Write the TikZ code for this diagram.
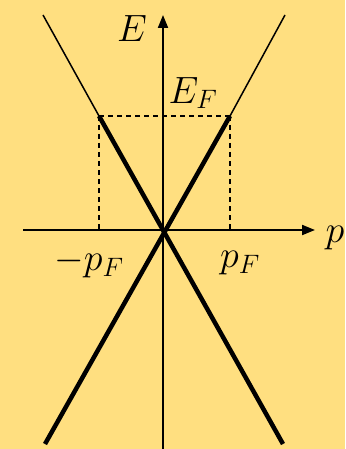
\documentclass[tikz,border=0pt]{standalone}
\usepackage{fix-cm}
\usetikzlibrary{arrows.meta}
\definecolor{bgc}{RGB}{255,223,128}
\begin{document}
\begin{tikzpicture}[x=1pt,y=-1pt,
  axis/.style={line width=2pt,-{Triangle[length=13pt,width=10pt]}},
  thinline/.style={line width=1.5pt},
  thickline/.style={line width=4.5pt},
  dash line/.style={line width=1.3pt,dash pattern=on 5pt off 4pt},
  lbl/.style={inner sep=0pt,font=\fontsize{38}{44}\selectfont}]
\fill[bgc] (0,0) rectangle (345,449);
\useasboundingbox (0,0) rectangle (345,449);
\coordinate (O) at (163,230);
\coordinate (A) at (99,116);
\coordinate (B) at (230,116);
\coordinate (AT) at (43,15);
\coordinate (BT) at (285,15);
\coordinate (AB) at (283,444);
\coordinate (BB) at (45,444);
\coordinate (Ax) at (99,230);
\coordinate (Bx) at (230,230);
\coordinate (Ybot) at (163,449);
\coordinate (Ytop) at (163,15);
\coordinate (Xl) at (23,230);
\coordinate (Xr) at (315,230);
% axes
\draw[axis] (Ybot) -- (Ytop);
\draw[axis] (Xl) -- (Xr);
% dashed
\draw[dash line] (A) -- (B);
\draw[dash line] (A) -- (Ax);
\draw[dash line] (B) -- (Bx);
% thin lines
\draw[thinline] (AT) -- (A);
\draw[thinline] (BT) -- (B);
% thick lines
\draw[thickline] (A) -- (AB);
\draw[thickline] (B) -- (BB);
% labels
\node[lbl] (lE) at (132,29) {$E$};
\node[lbl] (lEF) at (193,93) {$E_F$};
\node[lbl] (lp) at (335,238) {$p$};
\node[lbl] (lmpF) at (89,263) {$-p_F$};
\node[lbl] (lpF) at (240,263) {$p_F$};
\end{tikzpicture}
\end{document}
